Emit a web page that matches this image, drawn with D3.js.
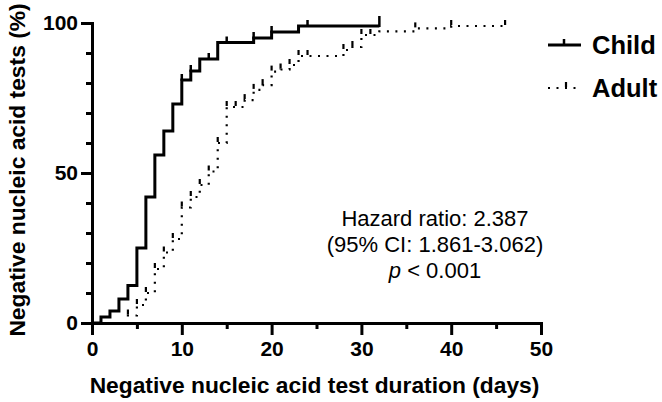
<!DOCTYPE html>
<html>
<head>
<meta charset="utf-8">
<script src="https://cdn.jsdelivr.net/npm/d3@7"></script>
<style>
  html, body { margin: 0; padding: 0; background: #fff; }
  svg { display: block; font-family: "Liberation Sans", Arial, sans-serif; }
</style>
</head>
<body>
<svg id="chart" width="662" height="402"></svg>
<script>
// ---- data ----
const childDays = [0, 1, 2, 3, 4, 5, 6, 7, 8, 9, 10, 11, 12, 14, 18, 20, 23, 32];
const childPct  = [0, 2, 4, 8, 12.5, 25, 42, 56, 64, 73, 81, 84, 88, 93.5, 95, 97, 99, 99];
const childCensor = [10, 11, 13, 15, 18, 20, 24, 32];

const adultDays = [0, 4, 5, 6, 7, 8, 9, 10, 11, 12, 13, 14, 15, 17, 18, 19, 20, 21, 22, 23, 28, 29, 30, 32, 36, 40, 46];
const adultPct  = [0, 2.5, 6, 10, 18, 23.5, 28, 38.5, 42, 46, 50.5, 60, 72, 74.3, 77.7, 79.3, 83.8, 84.5, 86, 89, 91, 92, 96, 97.2, 98.2, 99, 99];
const adultCensor = [4, 5, 6, 7, 8, 9, 10, 11, 12, 13, 14, 15, 16, 17, 18, 19, 20, 21, 22, 23, 24, 28, 29, 30, 31, 36, 40, 46];

const xTicks = [0, 10, 20, 30, 40, 50];
const xMinor = [5, 15, 25, 35, 45];
const yTicks = [0, 50, 100];
const yMinor = [10, 20, 30, 40, 60, 70, 80, 90];

const groups = ["Child", "Adult"];
const annotation = ["Hazard ratio: 2.387", "(95% CI: 1.861-3.062)"];

// ---- layout ----
const svg = d3.select("#chart");
const x = d3.scaleLinear().domain([0, 50]).range([92, 541]);
const y = d3.scaleLinear().domain([0, 100]).range([323, 23]);

const zip = (a, b) => a.map((d, i) => [d, b[i]]);
const child = zip(childDays, childPct);
const adult = zip(adultDays, adultPct);
const levelAt = (data, day) => {
  let v = data[0][1];
  for (const [d, p] of data) if (d <= day) v = p;
  return v;
};

const line = d3.line().x(d => x(d[0])).y(d => y(d[1])).curve(d3.curveStepAfter);

// curves
svg.append("path").datum(adult).attr("d", line)
  .attr("fill", "none").attr("stroke", "#000").attr("stroke-width", 2.2)
  .attr("stroke-dasharray", "2,6.5");
svg.selectAll(".acens").data(adultCensor).enter().append("line")
  .attr("x1", d => x(d)).attr("x2", d => x(d))
  .attr("y1", d => y(levelAt(adult, d)) - 6).attr("y2", d => y(levelAt(adult, d)) - 1)
  .attr("stroke", "#000").attr("stroke-width", 2.2);

svg.append("path").datum(child).attr("d", line)
  .attr("fill", "none").attr("stroke", "#000").attr("stroke-width", 3);
svg.selectAll(".ccens").data(childCensor).enter().append("line")
  .attr("x1", d => x(d)).attr("x2", d => x(d))
  .attr("y1", (d, i) => y(levelAt(child, d)) - (i === childCensor.length - 1 ? 10 : 6))
  .attr("y2", d => y(levelAt(child, d)) + 1)
  .attr("stroke", "#000").attr("stroke-width", 2.5);

// axes
svg.append("g").attr("transform", `translate(${x(0)},0)`)
  .call(d3.axisLeft(y).tickValues(yTicks).tickSize(11).tickPadding(3).tickFormat(d3.format("d")));
svg.append("g").attr("transform", `translate(${x(0)},0)`)
  .call(d3.axisLeft(y).tickValues(yMinor).tickSize(6).tickFormat(""));
svg.append("g").attr("transform", `translate(0,${y(0)})`)
  .call(d3.axisBottom(x).tickValues(xTicks).tickSize(12).tickPadding(6).tickFormat(d3.format("d")));
svg.append("g").attr("transform", `translate(0,${y(0)})`)
  .call(d3.axisBottom(x).tickValues(xMinor).tickSize(6).tickFormat(""));

svg.selectAll(".domain").attr("stroke", "#000").attr("stroke-width", 3);
svg.selectAll(".tick line").attr("stroke", "#000").attr("stroke-width", 3);
svg.selectAll(".tick text").attr("font-family", "Liberation Sans, Arial, sans-serif")
  .attr("font-size", 21).attr("font-weight", "bold").attr("fill", "#000");

// axis titles
svg.append("text").attr("x", x(25) - 2).attr("y", 393).attr("text-anchor", "middle")
  .attr("font-size", 22.8).attr("font-weight", "bold").text("Negative nucleic acid test duration (days)");
svg.append("text").attr("transform", `translate(25,${y(50) - 3}) rotate(-90)`).attr("text-anchor", "middle")
  .attr("font-size", 22.8).attr("font-weight", "bold").text("Negative nucleic acid tests (%)");

// legend
const leg = svg.append("g");
const legY = [45, 88];
leg.append("line").attr("x1", 548).attr("x2", 581).attr("y1", legY[0]).attr("y2", legY[0])
  .attr("stroke", "#000").attr("stroke-width", 3);
leg.append("line").attr("x1", 564).attr("x2", 564).attr("y1", legY[0] - 6).attr("y2", legY[0])
  .attr("stroke", "#000").attr("stroke-width", 2.5);
leg.append("line").attr("x1", 548).attr("x2", 581).attr("y1", legY[1]).attr("y2", legY[1])
  .attr("stroke", "#000").attr("stroke-width", 2.2).attr("stroke-dasharray", "2,6.5");
leg.append("line").attr("x1", 566).attr("x2", 566).attr("y1", legY[1] - 6).attr("y2", legY[1] - 1)
  .attr("stroke", "#000").attr("stroke-width", 2.2);
groups.forEach((g, i) => {
  leg.append("text").attr("x", 592).attr("y", legY[i] + 9).attr("font-size", 25.5)
    .attr("font-weight", "bold").text(g);
});

// annotation
const ann = svg.append("g").attr("font-size", 22).attr("text-anchor", "middle");
annotation.forEach((t, i) => {
  ann.append("text").attr("x", 435).attr("y", 226 + i * 26).text(t);
});
const p = ann.append("text").attr("x", 435).attr("y", 278);
p.append("tspan").attr("font-style", "italic").text("p");
p.append("tspan").text(" < 0.001");
</script>
</body>
</html>
